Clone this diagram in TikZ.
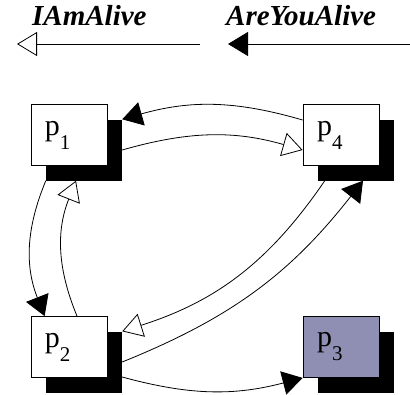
\documentclass[tikz,border=0pt]{standalone}
\usepackage{fontspec}
\setmainfont{Liberation Serif}
\usepackage{tikz}
\usetikzlibrary{arrows.meta, positioning}
\usepackage{xcolor}

\definecolor{crashed}{RGB}{143,143,179}

\tikzset{
    procbox/.style={draw=black, fill=white, line width=0.8pt, minimum height=61pt,
        text width=48pt, inner xsep=14pt, inner ysep=0pt, align=left,
        font=\fontsize{30}{30}\selectfont},
    shadowbox/.style={fill=black, minimum width=76pt, minimum height=61pt, inner sep=0pt},
    msglabel/.style={anchor=base west, inner sep=0pt, font=\fontsize{29}{29}\selectfont\bfseries\itshape},
    fullhead/.style={line width=0.8pt, -{Triangle[length=20pt,width=24pt]}},
    openhead/.style={line width=0.8pt, -{Triangle[open,length=20pt,width=24pt]}}
}

\newcommand{\procname}[1]{p\raisebox{-14pt}{\fontsize{21}{21}\selectfont #1}}

\begin{document}
\begin{tikzpicture}[x=1pt, y=-1pt]
            \useasboundingbox (0,0) rectangle (410,394);

            \node[msglabel] (iam) at (32,25) {IAmAlive};
            \node[msglabel] (ayu) at (226,25) {AreYouAlive};
            \coordinate (iamtail) at (200,44);
            \coordinate (iamtip) at (17,44);
            \coordinate (ayutail) at (410,44);
            \coordinate (ayutip) at (228,44);
            \draw[openhead] (iamtail) -- (iamtip);
            \draw[fullhead] (ayutail) -- (ayutip);

            \node[shadowbox] (s1) at (84,150) {};
            \node[shadowbox] (s4) at (356,150) {};
            \node[shadowbox] (s2) at (84,362) {};
            \node[shadowbox] (s3) at (356,362) {};

            \node[procbox] (p1) at (69,135) {\procname{1}};
            \node[procbox] (p4) at (341,135) {\procname{4}};
            \node[procbox] (p2) at (69,347) {\procname{2}};
            \node[procbox, fill=crashed] (p3) at (341,347) {\procname{3}};

            \draw[fullhead] ([yshift=15pt]p4.west) to[bend right=16] (s1.north east);
            \draw[openhead] (s1.east) to[bend left=16] ([yshift=-15pt]p4.west);

            \draw[fullhead] (s1.south west) to[bend right=22] ([xshift=14pt]p2.north west);
            \draw[openhead] ([xshift=8pt]p2.north) to[bend left=22] ([xshift=-8pt]s1.south);

            \draw[openhead] ([xshift=7pt]s4.south west) to[bend left=19] (s2.north east);
            \draw[fullhead] (s2.east) to[bend right=15] ([xshift=7pt]s4.south);

            \draw[fullhead] ([yshift=-15pt]s2.east) to[bend right=15] (p3.south west);
        \end{tikzpicture}
\end{document}
